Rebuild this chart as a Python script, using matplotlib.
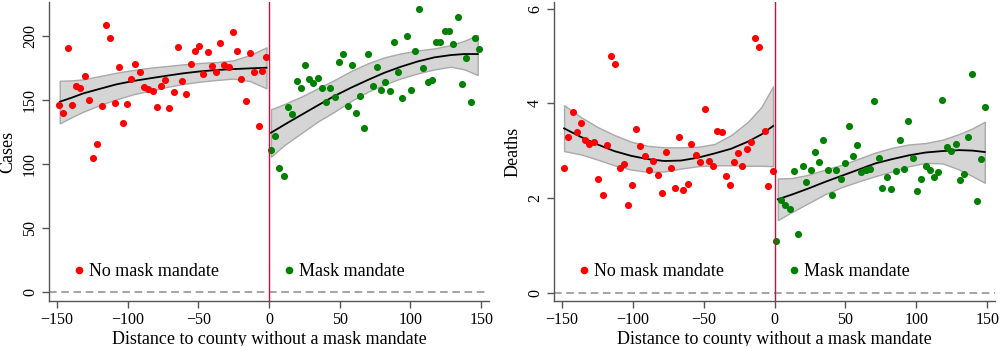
import numpy as np
import matplotlib.pyplot as plt
from matplotlib.lines import Line2D

# binned means, 3-unit bins on each side of the border
cases_x_no = [-148.4, -145.6, -142.0, -139.0, -136.6, -133.3, -130.2, -127.2, -124.1, -121.3,
              -118.0, -115.2, -112.4, -109.0, -106.2, -103.4, -100.4, -97.5, -94.4, -91.2,
              -88.3, -85.2, -82.2, -79.2, -76.3, -73.5, -70.7, -67.3, -64.5, -61.5,
              -58.7, -55.3, -52.3, -49.2, -46.4, -43.3, -40.5, -37.7, -34.3, -31.5,
              -28.5, -25.4, -22.6, -19.8, -16.5, -13.6, -10.6, -6.8, -4.7, -1.9]
cases_y_no = [146.6, 140.3, 190.6, 146.3, 161.2, 159.4, 169.0, 150.0, 105.2, 115.9,
              145.8, 208.6, 198.9, 147.9, 175.8, 132.0, 146.9, 166.9, 178.1, 172.1,
              160.2, 158.8, 157.3, 145.0, 161.4, 165.6, 144.0, 156.2, 191.9, 165.3,
              154.9, 178.4, 188.8, 192.2, 170.5, 187.7, 176.6, 171.9, 194.5, 177.6,
              176.3, 203.1, 188.8, 166.4, 149.2, 186.7, 172.1, 129.7, 172.9, 183.5]
cases_x_mask = [1.7, 4.5, 7.3, 10.6, 13.7, 16.3, 19.8, 22.6, 25.7, 28.3,
                31.4, 34.4, 37.5, 40.6, 43.4, 46.4, 49.5, 52.6, 55.6, 58.4,
                61.3, 64.3, 67.4, 70.2, 73.5, 76.1, 79.2, 82.3, 85.5, 88.6,
                91.2, 94.3, 97.3, 100.4, 103.5, 106.3, 109.1, 112.4, 115.2, 118.3,
                121.1, 124.4, 127.5, 130.3, 133.4, 136.4, 139.2, 142.5, 145.6, 148.2]
cases_y_mask = [111.2, 122.1, 96.9, 90.9, 144.8, 139.1, 165.1, 159.8, 177.3, 166.9,
                163.3, 167.7, 159.8, 148.9, 159.8, 152.3, 179.9, 186.2, 145.5, 177.6,
                139.8, 153.1, 128.6, 186.2, 161.2, 176.0, 158.0, 164.0, 157.5, 195.8,
                172.3, 152.0, 200.2, 157.8, 188.3, 221.3, 175.2, 164.3, 165.6, 195.3,
                195.3, 203.9, 203.9, 194.2, 215.1, 162.7, 183.3, 148.9, 198.4, 190.3]

deaths_x_no = [-148.4, -145.8, -142.3, -139.2, -136.6, -133.3, -130.7, -127.2, -124.6, -121.0,
               -118.4, -115.3, -112.5, -109.2, -106.1, -103.6, -100.5, -97.6, -94.6, -91.3,
               -88.4, -85.4, -82.4, -79.0, -76.4, -73.3, -70.5, -67.5, -64.4, -61.1,
               -58.7, -55.2, -52.3, -49.3, -46.5, -43.4, -40.6, -37.1, -34.2, -31.4,
               -28.6, -25.5, -22.6, -19.6, -16.3, -13.4, -10.6, -6.9, -4.5, -1.4]
deaths_y_no = [2.63, 3.28, 3.82, 3.40, 3.59, 3.23, 3.13, 3.19, 2.39, 2.06,
               3.12, 5.00, 4.84, 2.63, 2.72, 1.86, 2.28, 3.45, 3.10, 2.88,
               2.60, 2.78, 2.48, 2.11, 2.98, 2.63, 2.21, 3.28, 2.16, 2.30,
               3.13, 2.90, 2.75, 3.87, 2.78, 2.68, 3.42, 3.40, 2.46, 2.27,
               2.75, 2.95, 2.68, 3.03, 3.18, 5.37, 5.19, 3.41, 2.25, 2.57]
deaths_x_mask = [1.4, 4.5, 7.5, 10.8, 13.7, 16.5, 19.8, 22.5, 25.7, 28.5,
                 31.6, 34.4, 37.5, 40.5, 43.6, 46.7, 49.7, 52.6, 55.6, 58.4,
                 61.3, 64.4, 67.4, 70.5, 73.6, 76.1, 79.5, 82.5, 85.6, 88.7,
                 91.5, 94.3, 97.6, 100.2, 103.5, 106.6, 109.4, 112.5, 115.5, 118.4,
                 121.7, 124.5, 127.8, 130.6, 133.5, 136.6, 139.4, 142.7, 145.5, 148.3]
deaths_y_mask = [1.08, 1.95, 1.86, 1.77, 2.56, 1.23, 2.68, 2.33, 2.60, 2.97,
                 2.75, 3.23, 2.59, 2.06, 2.60, 2.41, 2.74, 3.52, 2.88, 3.11,
                 2.54, 2.59, 2.62, 4.05, 2.84, 2.21, 2.44, 2.19, 2.56, 3.23,
                 2.62, 3.62, 2.85, 2.15, 2.39, 2.68, 2.60, 2.44, 2.54, 4.06,
                 3.08, 2.99, 3.14, 2.37, 2.50, 3.28, 4.62, 1.93, 2.83, 3.92]

# fitted curves and 95% CI (estimated on the unbinned sample)
cases_fx_no = [-147.9, -139.7, -131.4, -119.6, -107.9, -96.1, -84.3, -72.5, -60.8, -49.0,
               -37.2, -25.4, -13.6, -1.8]
cases_fit_no = [148.9, 152.0, 155.4, 159.0, 162.5, 165.1, 167.2, 169.2, 171.1, 172.6,
                173.7, 174.4, 175.0, 175.5]
cases_hi_no = [165.3, 165.6, 166.4, 169.0, 171.6, 173.7, 175.5, 176.8, 178.1, 179.2,
               179.9, 181.2, 185.4, 191.4]
cases_lo_no = [132.0, 136.7, 141.1, 146.3, 150.8, 154.7, 157.5, 160.4, 162.8, 164.6,
               165.9, 167.0, 165.1, 159.4]

cases_fx_mask = [1.4, 10.9, 22.6, 34.4, 46.2, 58.0, 69.8, 81.6, 93.3, 105.1,
                 116.9, 128.6, 138.1, 147.5]
cases_fit_mask = [124.7, 131.0, 138.5, 146.0, 153.4, 159.9, 165.9, 171.6, 176.3, 180.4,
                  183.6, 185.4, 186.2, 186.2]
cases_hi_mask = [143.0, 147.1, 152.8, 159.3, 165.9, 172.9, 178.9, 183.6, 186.7, 189.0,
                 190.6, 193.2, 196.6, 201.0]
cases_lo_mask = [106.0, 115.1, 124.2, 133.4, 141.1, 149.5, 156.7, 162.5, 167.2, 171.1,
                 174.2, 176.3, 174.2, 169.8]

deaths_fx_no = [-148.4, -136.6, -124.8, -113.0, -101.2, -89.4, -77.6, -65.9, -54.1, -42.3,
                -30.5, -18.7, -9.3, -1.0]
deaths_fit_no = [3.47, 3.29, 3.13, 2.99, 2.89, 2.82, 2.78, 2.79, 2.85, 2.94,
                 3.04, 3.19, 3.34, 3.52]
deaths_hi_no = [3.96, 3.71, 3.50, 3.33, 3.19, 3.10, 3.07, 3.07, 3.08, 3.14,
                3.33, 3.61, 3.92, 4.36]
deaths_lo_no = [2.99, 2.92, 2.81, 2.69, 2.60, 2.55, 2.56, 2.62, 2.67, 2.69,
                2.69, 2.68, 2.68, 2.67]

deaths_fx_mask = [2.3, 12.2, 24.0, 35.8, 47.6, 59.4, 71.2, 83.0, 94.8, 106.6,
                  118.4, 130.2, 139.6, 148.3]
deaths_fit_mask = [1.97, 2.07, 2.20, 2.34, 2.47, 2.60, 2.73, 2.82, 2.90, 2.96,
                   2.99, 3.01, 3.00, 2.97]
deaths_hi_mask = [2.41, 2.42, 2.49, 2.60, 2.70, 2.83, 2.96, 3.06, 3.13, 3.16,
                  3.23, 3.35, 3.47, 3.61]
deaths_lo_mask = [1.53, 1.70, 1.89, 2.08, 2.23, 2.35, 2.46, 2.56, 2.67, 2.74,
                  2.73, 2.60, 2.46, 2.32]

plt.rcParams['font.family'] = ['Liberation Serif', 'DejaVu Serif']


def panel(ax, sides, ylabel, yticks, ylim):
    for (x, y, c), (fx, fit, lo, hi) in sides:
        ax.fill_between(fx, lo, hi, facecolor='#d5d5d5', edgecolor='#a9a9a9', lw=1, zorder=1)
        ax.plot(fx, fit, color='black', lw=1.3, zorder=2)
        ax.scatter(x, y, s=26, color=c, zorder=3, linewidths=0)
    ax.axvline(0, color='#c4123f', lw=1, zorder=4)
    ax.axhline(0, color='#8c8c8c', lw=1.1, ls=(0, (5, 3)), zorder=0)
    ax.set_xlim(-155.5, 155.5)
    ax.set_ylim(*ylim)
    ax.set_xticks([-150, -100, -50, 0, 50, 100, 150])
    ax.set_yticks(yticks)
    for sp in ['top', 'right']:
        ax.spines[sp].set_visible(False)
    for sp in ['left', 'bottom']:
        ax.spines[sp].set_color('#555555')
        ax.spines[sp].set_linewidth(1)
    ax.tick_params(length=5, width=1, color='#555555', labelsize=11.5, pad=3)
    for lab in ax.get_yticklabels():
        lab.set_rotation(90)
        lab.set_va('center')
    ax.set_xlabel('Distance to county without a mask mandate', fontsize=13, labelpad=2)
    ax.set_ylabel(ylabel, fontsize=13, labelpad=4)
    handles = [Line2D([], [], ls='none', marker='o', ms=5.5, mfc='red', mec='none'),
               Line2D([], [], ls='none', marker='o', ms=5.5, mfc='green', mec='none')]
    ax.legend(handles, ['No mask mandate', 'Mask mandate'], ncol=2, frameon=False,
              loc='lower left', bbox_to_anchor=(0.035, 0.045), fontsize=13,
              handlelength=0.8, handletextpad=0.15, columnspacing=3.5, borderaxespad=0)


fig = plt.figure(figsize=(10, 3.46), dpi=100)
ax1 = fig.add_axes([0.049, 0.130, 0.440, 0.864])
ax2 = fig.add_axes([0.554, 0.130, 0.441, 0.864])

panel(ax1,
      [((cases_x_no, cases_y_no, 'red'), (cases_fx_no, cases_fit_no, cases_lo_no, cases_hi_no)),
       ((cases_x_mask, cases_y_mask, 'green'), (cases_fx_mask, cases_fit_mask, cases_lo_mask, cases_hi_mask))],
      'Cases', [0, 50, 100, 150, 200], (-6.8, 226.8))
panel(ax2,
      [((deaths_x_no, deaths_y_no, 'red'), (deaths_fx_no, deaths_fit_no, deaths_lo_no, deaths_hi_no)),
       ((deaths_x_mask, deaths_y_mask, 'green'), (deaths_fx_mask, deaths_fit_mask, deaths_lo_mask, deaths_hi_mask))],
      'Deaths', [0, 2, 4, 6], (-0.18, 6.14))

fig.savefig('out.png', dpi=100)
